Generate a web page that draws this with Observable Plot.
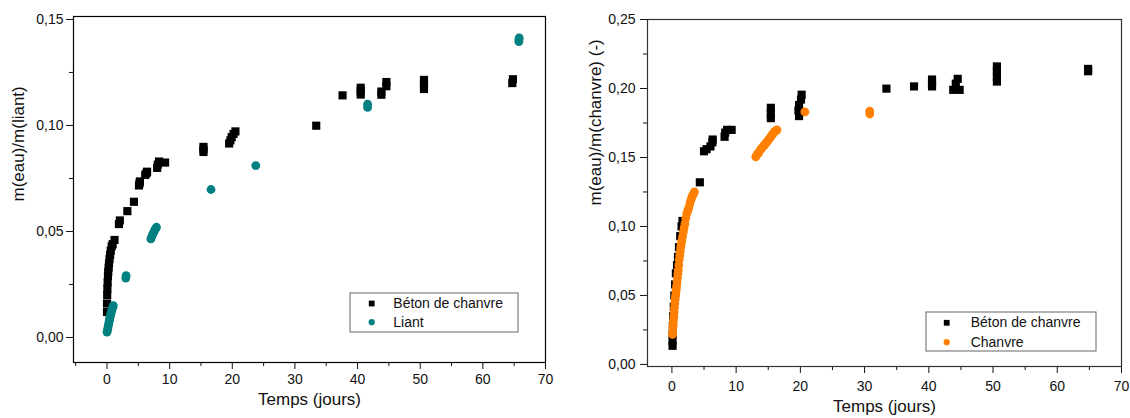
<!DOCTYPE html>
<html><head><meta charset="utf-8">
<script src="https://cdn.jsdelivr.net/npm/d3@7"></script>
<script src="https://cdn.jsdelivr.net/npm/@observablehq/plot@0.6"></script>
<style>
body{margin:0;background:#fff;font-family:"Liberation Sans",Arial,sans-serif}
#wrap{position:relative;width:1130px;height:418px;overflow:hidden;background:#fff}
.panel{position:absolute;top:0}
</style></head><body><div id="wrap"></div>
<script>
// ---------- Left chart: Béton de chanvre vs Liant ----------
const leftBetonT = [0, 0, 0.03, 0.06, 0.1, 0.15, 0.2, 0.26, 0.32, 0.4, 0.5, 0.6, 0.75, 0.9, 1.2,
  1.9, 2.05, 3.25, 4.3, 5.1, 5.2, 5.25, 6.1, 6.3, 6.4, 8.0, 8.1, 8.3, 9.27,
  15.4, 15.4, 15.4, 19.5, 19.7, 19.9, 20.2, 20.5, 33.4, 37.6, 40.5, 40.5, 40.5,
  43.8, 43.8, 44.6, 44.6, 50.6, 50.6, 50.6, 64.7, 64.8];
const leftBetonV = [0.012, 0.016, 0.020, 0.023, 0.026, 0.029, 0.031, 0.033, 0.035, 0.037, 0.039, 0.041, 0.043, 0.044, 0.046,
  0.0535, 0.0552, 0.0596, 0.064, 0.0717, 0.0727, 0.0736, 0.0767, 0.0775, 0.0782, 0.0800, 0.0815, 0.0830, 0.0825,
  0.0875, 0.0887, 0.0899, 0.0915, 0.0930, 0.0945, 0.0960, 0.0972, 0.0999, 0.1142, 0.1146, 0.1162, 0.1178,
  0.1145, 0.1160, 0.1185, 0.1205, 0.1172, 0.1195, 0.1215, 0.1200, 0.1218];
const leftLiantT = [0, 0.07, 0.14, 0.2, 0.27, 0.34, 0.4, 0.47, 0.54, 0.6, 0.67, 0.75, 0.83, 0.92, 1.0,
  3.0, 3.05, 7.0, 7.15, 7.3, 7.45, 7.6, 7.75, 7.9, 16.6, 23.75, 41.6, 41.6, 65.75, 65.75, 65.8];
const leftLiantV = [0.0025, 0.0035, 0.0045, 0.0055, 0.0065, 0.0075, 0.0085, 0.0093, 0.0102, 0.011, 0.0118, 0.0127, 0.0135, 0.0143, 0.015,
  0.0280, 0.0292, 0.0465, 0.0476, 0.0487, 0.0496, 0.0505, 0.0513, 0.0520, 0.0698, 0.0811, 0.1085, 0.1100, 0.1396, 0.1405, 0.1413];

// ---------- Right chart: Béton de chanvre vs Chanvre ----------
const rightBetonT = [0.1, 0.1, 0.12, 0.15, 0.2, 0.3, 0.38, 0.5, 0.62, 0.8, 0.95, 1.1, 1.3, 1.5, 1.65,
  4.35, 5.0, 5.4, 6.0, 6.3, 6.35, 8.2, 8.3, 8.6, 9.3, 15.4, 15.4, 15.4,
  19.8, 19.7, 19.8, 20.1, 20.2, 33.4, 37.7, 40.5, 40.5, 40.5, 43.8, 44.8, 44.2, 44.5,
  50.6, 50.6, 50.6, 50.6, 64.8, 64.8];
const rightBetonV = [0.0135, 0.017, 0.022, 0.028, 0.035, 0.042, 0.050, 0.058, 0.066, 0.072, 0.078, 0.085, 0.093, 0.100, 0.104,
  0.132, 0.1545, 0.156, 0.158, 0.161, 0.163, 0.165, 0.168, 0.170, 0.170, 0.1785, 0.182, 0.186,
  0.180, 0.184, 0.188, 0.192, 0.1955, 0.1999, 0.2015, 0.2015, 0.204, 0.2065, 0.199, 0.199, 0.2035, 0.207,
  0.205, 0.2085, 0.2125, 0.216, 0.2125, 0.2142];
const rightChanvreT = [0.1, 0.13, 0.17, 0.2, 0.25, 0.3, 0.35, 0.4, 0.45, 0.5, 0.56, 0.62, 0.68, 0.74, 0.8, 0.87, 0.94, 1.0, 1.07, 1.14,
  1.22, 1.3, 1.38, 1.46, 1.55, 1.66, 1.78, 1.9, 2.03, 2.17, 2.33, 2.48, 2.63, 2.8, 2.95, 3.1, 3.25, 3.4, 3.5,
  13.06, 13.25, 13.45, 13.65, 13.85, 14.05, 14.25, 14.45, 14.65, 14.85, 15.05, 15.25, 15.45, 15.65, 15.85, 16.05, 16.25, 16.35,
  20.7, 30.8, 30.8];
const rightChanvreV = [0.0217, 0.024, 0.027, 0.029, 0.032, 0.035, 0.038, 0.041, 0.044, 0.047, 0.0495, 0.0518, 0.0545, 0.057, 0.060, 0.063, 0.066, 0.0685, 0.072, 0.0759,
  0.079, 0.082, 0.085, 0.0875, 0.090, 0.0927, 0.096, 0.099, 0.102, 0.106, 0.1096, 0.1115, 0.1135, 0.1165, 0.119, 0.121, 0.1225, 0.124, 0.125,
  0.1505, 0.152, 0.153, 0.1545, 0.156, 0.157, 0.1585, 0.159, 0.1605, 0.1615, 0.163, 0.164, 0.1655, 0.1665, 0.168, 0.169, 0.1695, 0.170,
  0.183, 0.1815, 0.1835];

// tick values
const xMajor = [0, 10, 20, 30, 40, 50, 60, 70];
const xMinorLeft = [-5, 5, 15, 25, 35, 45, 55, 65];
const xMinorRight = [5, 15, 25, 35, 45, 55, 65];
const yMajorLeft = [0, 0.05, 0.10, 0.15];
const yMinorLeft = [0.025, 0.075, 0.125];
const yMajorRight = [0, 0.05, 0.10, 0.15, 0.20, 0.25];
const yMinorRight = [0.025, 0.075, 0.125, 0.175, 0.225];

const FONT = '"Liberation Sans", Arial, sans-serif';
const comma = d => d.toFixed(2).replace('.', ',');
const pts = (T, V) => T.map((t, i) => ({t, v: V[i]}));

function panel(o) {
  return Plot.plot({
    width: 565, height: 418,
    marginLeft: o.ml, marginRight: o.mr, marginTop: o.mt, marginBottom: o.mb,
    style: {fontFamily: FONT, fontSize: "14px", color: "#111", background: "white", overflow: "visible"},
    x: {domain: o.xd},
    y: {domain: o.yd},
    marks: [
      Plot.axisX({ticks: xMajor, tickSize: 7, tickPadding: o.xpad, tickFormat: d => String(d), label: null, fontSize: 14}),
      Plot.axisX({ticks: o.xMinor, tickSize: 4, tickFormat: () => "", label: null}),
      Plot.axisY({ticks: o.yMajor, tickSize: 7, tickPadding: o.ypad, tickFormat: comma, label: null, fontSize: 14}),
      Plot.axisY({ticks: o.yMinor, tickSize: 4, tickFormat: () => "", label: null}),
      Plot.frame({stroke: o.frame, strokeWidth: 1.2}),
      Plot.dot(pts(o.bT, o.bV), {x: "t", y: "v", symbol: "square", r: 4.6, fill: "black"}),
      Plot.dot(pts(o.sT, o.sV), {x: "t", y: "v", symbol: "circle", r: 4.4, fill: o.sColor}),
      Plot.text([o.ytitle], {text: d => d, frameAnchor: "left", rotate: -90, dx: o.ytdx, dy: o.ytdy, fontSize: 17, fill: "#111"}),
      Plot.text(["Temps (jours)"], {text: d => d, frameAnchor: "bottom", lineAnchor: "bottom", dy: o.xtdy, fontSize: 17, fill: "#111"})
    ]
  });
}

function legend(x, y, w, h, label2, color2, sx, tx, b1, b2) {
  const svg = d3.create("svg").attr("width", w + 2).attr("height", h + 2)
    .style("position", "absolute").style("left", (x - 1) + "px").style("top", (y - 1) + "px");
  svg.append("rect").attr("x", 1).attr("y", 1).attr("width", w).attr("height", h)
    .attr("fill", "white").attr("stroke", "#666").attr("stroke-width", 1);
  svg.append("rect").attr("x", sx - 2.9 + 1).attr("y", b1 - 4.5 - 2.9 + 1).attr("width", 5.8).attr("height", 5.8).attr("fill", "black");
  svg.append("circle").attr("cx", sx + 1).attr("cy", b2 - 4.5 + 1).attr("r", 3.1).attr("fill", color2);
  svg.append("text").attr("x", tx + 1).attr("y", b1 + 1).attr("font-family", FONT).attr("font-size", 14).attr("fill", "#111").text("Béton de chanvre");
  svg.append("text").attr("x", tx + 1).attr("y", b2 + 1).attr("font-family", FONT).attr("font-size", 14).attr("fill", "#111").text(label2);
  return svg.node();
}

const wrap = document.getElementById("wrap");

const left = panel({
  ml: 73, mr: 20, mt: 16, mb: 56,
  xd: [-5.35, 70], yd: [-0.0118, 0.1514],
  xMinor: xMinorLeft, yMajor: yMajorLeft, yMinor: yMinorLeft,
  xpad: 5, ypad: 3, frame: "black",
  bT: leftBetonT, bV: leftBetonV, sT: leftLiantT, sV: leftLiantV, sColor: "#008080",
  ytitle: "m(eau)/m(liant)", ytdx: -55, ytdy: 12, xtdy: 42
});
left.classList.add("panel"); left.style.left = "0px";
wrap.appendChild(left);

const right = panel({
  ml: 82, mr: 9, mt: 19, mb: 52,
  xd: [-3.8, 70], yd: [-0.0015, 0.25],
  xMinor: xMinorRight, yMajor: yMajorRight, yMinor: yMinorRight,
  xpad: 8, ypad: 5, frame: "#333",
  bT: rightBetonT, bV: rightBetonV, sT: rightChanvreT, sV: rightChanvreV, sColor: "#FF8000",
  ytitle: "m(eau)/m(chanvre) (-)", ytdx: -52, ytdy: 12.5, xtdy: 45
});
right.classList.add("panel"); right.style.left = "565px";
wrap.appendChild(right);

wrap.appendChild(legend(350, 293, 168, 39, "Liant", "#008080", 21.7, 43.3, 15, 33.7));
wrap.appendChild(legend(926, 312, 170, 39, "Chanvre", "#FF8000", 20.7, 44.7, 15.3, 34.7));
</script></body></html>
